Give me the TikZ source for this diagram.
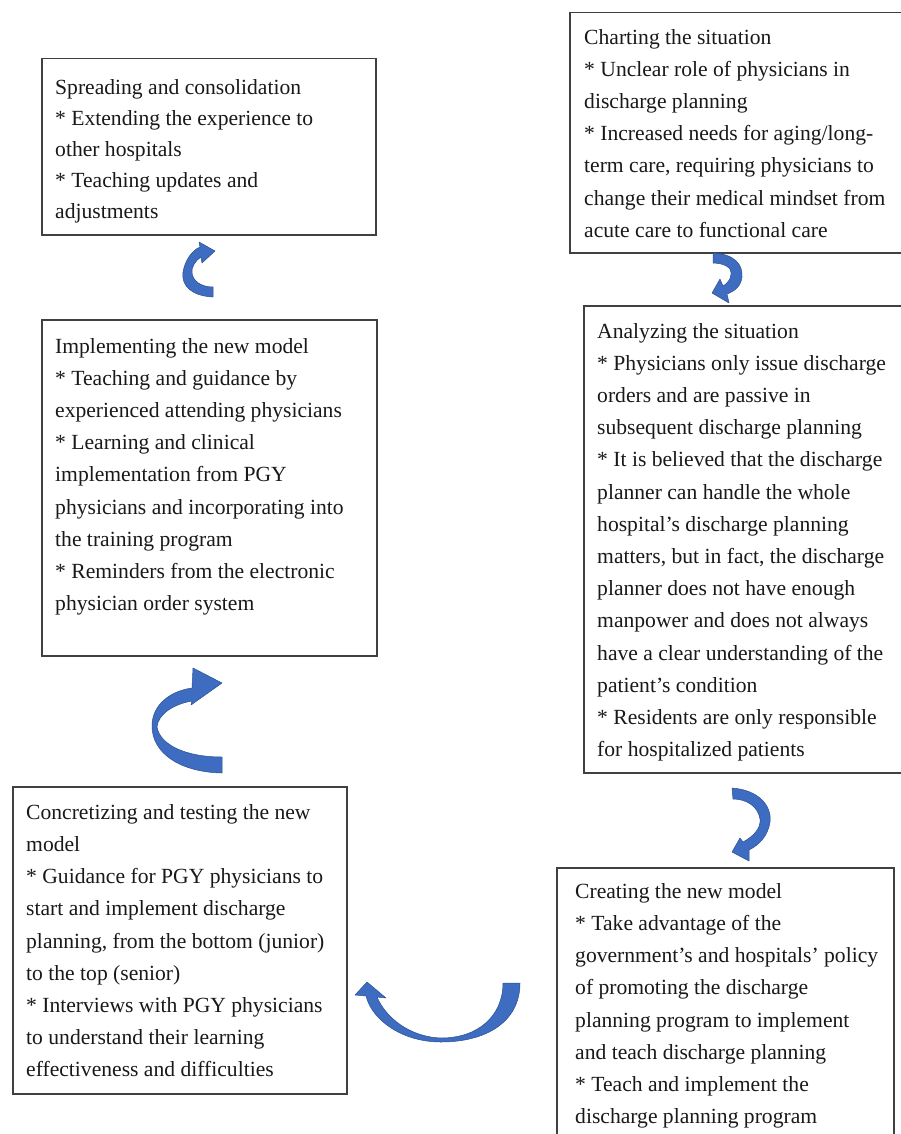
\documentclass[tikz,border=0pt]{standalone}
\usepackage{fontspec}
\setmainfont{Liberation Serif}
\definecolor{arrowblue}{RGB}{62,108,192}
\definecolor{arrowedge}{RGB}{44,80,146}
\tikzset{
    stepbox/.style={draw=black!75, line width=1.5pt, anchor=north west, inner sep=0pt},
    steptext/.style={anchor=north west, inner sep=0pt, align=left, text=black!90,
        font=\fontsize{21.6}{32.2}\selectfont},
    bluearrow/.style={fill=arrowblue, draw=arrowedge, line width=0.5pt, line join=round},
}
\begin{document}
\begin{tikzpicture}[x=1pt, y=-1pt]
    \useasboundingbox[fill=white] (0,0) rectangle (901,1134);

    % Caixas da coluna esquerda
    \node[stepbox, minimum width=334pt, minimum height=176pt] (spread) at (41,58) {};
    \node[steptext, font=\fontsize{21.6}{31}\selectfont] (spreadtxt) at ([shift={(14pt,-21pt)}]spread.north west) {Spreading and consolidation\\
        * Extending the experience to\\ other hospitals\\ * Teaching updates and\\ adjustments};

    \node[stepbox, minimum width=335pt, minimum height=336pt] (implement) at (41,319) {};
    \node[steptext] (implementtxt) at ([shift={(14pt,-19pt)}]implement.north west) {Implementing the new model\\
        * Teaching and guidance by\\ experienced attending physicians\\ * Learning and clinical\\
        implementation from PGY\\ physicians and incorporating into\\ the training program\\
        * Reminders from the electronic\\ physician order system};

    \node[stepbox, minimum width=334pt, minimum height=307pt] (concrete) at (12,786) {};
    \node[steptext] (concretetxt) at ([shift={(14pt,-18pt)}]concrete.north west) {Concretizing and testing the new\\
        model\\ * Guidance for PGY physicians to\\ start and implement discharge\\
        planning, from the bottom (junior)\\ to the top (senior)\\ * Interviews with PGY physicians\\
        to understand their learning\\ effectiveness and difficulties};

    % Caixas da coluna direita
    \node[stepbox, minimum width=346pt, minimum height=240pt] (chart) at (569,12) {};
    \node[steptext] (charttxt) at ([shift={(15pt,-17pt)}]chart.north west) {Charting the situation\\
        * Unclear role of physicians in\\ discharge planning\\ * Increased needs for aging/long-\\
        term care, requiring physicians to\\ change their medical mindset from\\ acute care to functional care};

    \node[stepbox, minimum width=332pt, minimum height=467pt] (analyze) at (583,305) {};
    \node[steptext] (analyzetxt) at ([shift={(14pt,-18pt)}]analyze.north west) {Analyzing the situation\\
        * Physicians only issue discharge\\ orders and are passive in\\ subsequent discharge planning\\
        * It is believed that the discharge\\ planner can handle the whole\\ hospital's discharge planning\\
        matters, but in fact, the discharge\\ planner does not have enough\\ manpower and does not always\\
        have a clear understanding of the\\ patient's condition\\ * Residents are only responsible\\
        for hospitalized patients};

    \node[stepbox, minimum width=337pt, minimum height=280pt] (create) at (556,867) {};
    \node[steptext] (createtxt) at ([shift={(19pt,-16pt)}]create.north west) {Creating the new model\\
        * Take advantage of the\\ government's and hospitals' policy\\ of promoting the discharge\\
        planning program to implement\\ and teach discharge planning\\ * Teach and implement the\\
        discharge planning program};

    % Setas curvas
    \path[bluearrow] (213,297) .. controls (192,296) and (181,286) .. (183,272)
        .. controls (185,261) and (191,251) .. (200,247) -- (199,242) -- (215,251) -- (202,263) -- (201,257)
        .. controls (196,260) and (191,267) .. (192,273) .. controls (193,281) and (201,287) .. (213,287) -- cycle;
    \path[bluearrow] (222,773) .. controls (178,772) and (152,752) .. (152,726)
        .. controls (152,705) and (170,691) .. (192,688) -- (193,668) -- (222,683) -- (191,705) -- (192,701)
        .. controls (174,704) and (158,714) .. (157,727) .. controls (160,745) and (186,757) .. (222,757) -- cycle;
    \path[bluearrow] (713,253) .. controls (734,254) and (743,264) .. (742,277)
        .. controls (741,286) and (735,291) .. (727,294) -- (729,303) -- (712,293) -- (720,279) -- (723,286)
        .. controls (730,282) and (733,274) .. (730,269) .. controls (727,265) and (720,263) .. (713,263) -- cycle;
    \path[bluearrow] (732,788) .. controls (759,790) and (772,806) .. (770,822)
        .. controls (768,836) and (759,845) .. (749,850) -- (749,861) -- (732,852) -- (740,838) -- (743,842)
        .. controls (754,836) and (761,828) .. (760,819) .. controls (758,806) and (746,799) .. (733,799) -- cycle;
    \path[bluearrow] (520,983) .. controls (520,1022) and (486,1042) .. (441,1042)
        .. controls (402,1042) and (372,1020) .. (366,996) -- (355,995) -- (367,982) -- (386,998) -- (377,997)
        .. controls (386,1018) and (410,1037) .. (441,1038) .. controls (478,1038) and (503,1016) .. (503,983) -- cycle;
\end{tikzpicture}
\end{document}
